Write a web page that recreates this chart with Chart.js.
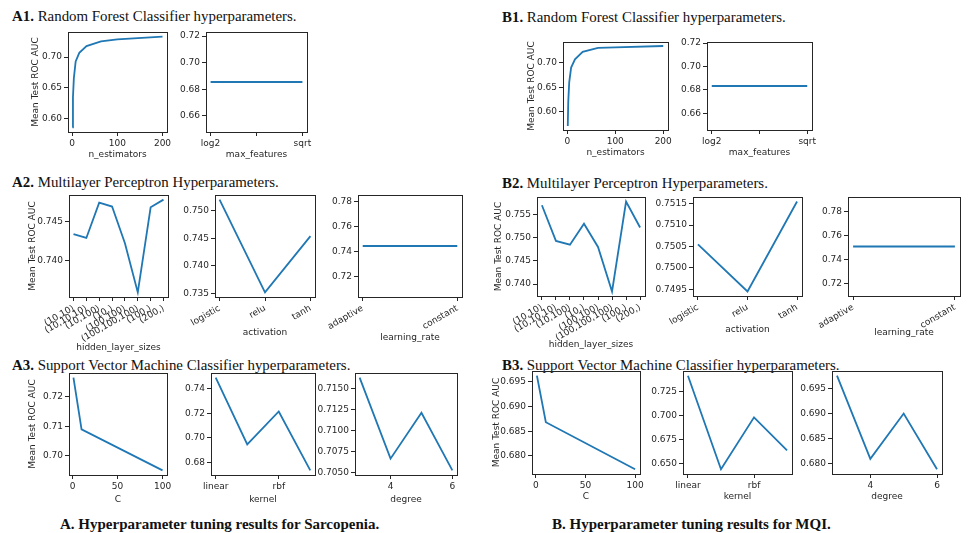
<!DOCTYPE html>
<html><head><meta charset="utf-8">
<script src="https://cdn.jsdelivr.net/npm/chart.js@4.4.0/dist/chart.umd.min.js"></script>
<style>
html,body{margin:0;padding:0;background:#fff;}
#fig{position:relative;width:978px;height:533px;overflow:hidden;background:#fff;}
#fig canvas{position:absolute;}
.ttl{position:absolute;font-family:"Liberation Serif","Times New Roman",serif;font-size:14.9px;color:#111;white-space:nowrap;line-height:16px;}
.cap{position:absolute;font-family:"Liberation Serif","Times New Roman",serif;font-weight:bold;font-size:15px;color:#111;white-space:nowrap;line-height:18px;}
</style></head><body><div id="fig">
<div class="ttl" style="left:12px;top:8px"><b>A1.</b> Random Forest Classifier hyperparameters.</div>
<div class="ttl" style="left:502px;top:9px"><b>B1.</b> Random Forest Classifier hyperparameters.</div>
<div class="ttl" style="left:12px;top:174px"><b>A2.</b> Multilayer Perceptron Hyperparameters.</div>
<div class="ttl" style="left:502px;top:175px"><b>B2.</b> Multilayer Perceptron Hyperparameters.</div>
<div class="ttl" style="left:12px;top:357px"><b>A3.</b> Support Vector Machine Classifier hyperparameters.</div>
<div class="ttl" style="left:502px;top:357px"><b>B3.</b> Support Vector Machine Classifier hyperparameters.</div>
<div class="cap" style="left:60px;top:515px">A. Hyperparameter tuning results for Sarcopenia.</div>
<div class="cap" style="left:552px;top:515px">B. Hyperparameter tuning results for MQI.</div>
</div>
<script>
// ---- data ----
const nEstimators = [1, 2, 4, 8, 16, 32, 64, 100, 200];
const sarcRfByNEstimators = [0.586, 0.635, 0.666, 0.693, 0.707, 0.718, 0.7255, 0.7288, 0.7334];
const mqiRfByNEstimators  = [0.571, 0.620, 0.660, 0.690, 0.707, 0.722, 0.730, 0.731, 0.734];
const maxFeatures = ['log2', '', 'sqrt'];
const sarcRfByMaxFeatures = [0.6854, 0.6854, 0.6854];
const mqiRfByMaxFeatures  = [0.6834, 0.6834, 0.6834];

const hiddenLayerSizes = ['(10,10)', '(10,10,10)', '(10,100)', '(10,)', '(100,100)', '(100,100,100)', '(100,)', '(200,)'];
const sarcMlpByHidden = [0.7434, 0.7429, 0.7475, 0.7470, 0.7422, 0.7358, 0.7469, 0.7479];
const mqiMlpByHidden  = [0.7570, 0.7493, 0.7485, 0.7530, 0.7480, 0.7384, 0.7578, 0.7522];
const activations = ['logistic', 'relu', 'tanh'];
const sarcMlpByActivation = [0.7520, 0.7352, 0.7454];
const mqiMlpByActivation  = [0.75055, 0.74945, 0.75155];
const learningRates = ['adaptive', 'constant'];
const sarcMlpByLearningRate = [0.7444, 0.7444];
const mqiMlpByLearningRate  = [0.7506, 0.7506];

const cValues = [1, 10, 100];
const sarcSvmByC = [0.7265, 0.7090, 0.6951];
const mqiSvmByC  = [0.6962, 0.6868, 0.6773];
const kernels = ['linear', 'poly', 'rbf', 'sigmoid'];
const kernelTickLabels = ['linear', '', 'rbf', ''];
const sarcSvmByKernel = [0.7489, 0.6946, 0.7214, 0.6735];
const mqiSvmByKernel  = [0.7415, 0.6438, 0.6980, 0.6636];
const degrees = [3, 4, 5, 6];
const sarcSvmByDegree = [0.71625, 0.70668, 0.7121, 0.7053];
const mqiSvmByDegree  = [0.6976, 0.6809, 0.6900, 0.6788];

const yLabel = 'Mean Test ROC AUC';

// ---- drawing ----
const fig = document.getElementById('fig');
const FONT = {family: '"DejaVu Sans", sans-serif', size: 9};
const INK = '#262626';
const frameBox = {
  id: 'frameBox',
  afterDraw(chart) {
    const a = chart.chartArea, ctx = chart.ctx;
    ctx.save(); ctx.strokeStyle = INK; ctx.lineWidth = 1;
    ctx.strokeRect(Math.round(a.left) + 0.5, Math.round(a.top) + 0.5, Math.round(a.right - a.left), Math.round(a.bottom - a.top));
    ctx.restore();
  }
};

function stepTicks(scale, step) {
  const out = [];
  let v = Math.ceil(scale.min / step - 1e-9) * step;
  for (; v <= scale.max + 1e-9; v += step) out.push({value: Math.round(v * 1e6) / 1e6});
  scale.ticks = out;
}

function panel(frame, xs, ys, o) {
  const [L, T, R, B] = frame;
  const yW = o.yW || 45, pt = 10, pr = 34, xH = o.xH;
  const w = R - L + yW + pr, h = B - T + pt + xH;
  const c = document.createElement('canvas');
  c.width = w; c.height = h;
  c.style.left = (L - yW) + 'px'; c.style.top = (T - pt) + 'px';
  c.style.width = w + 'px'; c.style.height = h + 'px';
  fig.appendChild(c);

  const cats = o.cats;
  let xMin, xMax;
  if (cats) { const n = xs.length - 1; xMin = -0.05 * n; xMax = n * 1.05; }
  else { const lo = Math.min(...xs), hi = Math.max(...xs); xMin = lo - 0.05 * (hi - lo); xMax = hi + 0.05 * (hi - lo); }
  let yLo = Math.min(...ys), yHi = Math.max(...ys);
  if (yHi - yLo < 1e-12) { yLo = yLo - 0.05 * Math.abs(yLo); yHi = yHi + 0.05 * Math.abs(yHi); }
  const yr = yHi - yLo;
  const yMin = yLo - 0.05 * yr, yMax = yHi + 0.05 * yr;

  const grid = {drawOnChartArea: false, drawTicks: true, tickLength: 4, color: INK, lineWidth: 1};
  new Chart(c, {
    type: 'line',
    data: {datasets: [{
      data: xs.map((x, i) => ({x: cats ? i : x, y: ys[i]})),
      borderColor: '#1f77b4', borderWidth: 1.8, pointRadius: 0, tension: 0, fill: false
    }]},
    options: {
      responsive: false, animation: false, devicePixelRatio: 1,
      layout: {padding: {left: 0, top: pt, right: pr, bottom: 0}},
      plugins: {legend: {display: false}, tooltip: {enabled: false}},
      scales: {
        x: {
          type: 'linear', min: xMin, max: xMax,
          grid: grid, border: {display: true, color: INK, width: 1},
          ticks: {
            font: FONT, color: INK, padding: 2, autoSkip: false,
            minRotation: o.rot || 0, maxRotation: o.rot || 0,
            callback: (v) => cats ? (Number.isInteger(v) ? (o.tickLabels || cats)[v] : '') : String(v)
          },
          title: {display: true, text: o.xTitle, font: FONT, color: INK, padding: 0},
          afterBuildTicks: (s) => stepTicks(s, o.xStep || 1),
          afterFit: (s) => { s.height = xH; s.paddingLeft = 0; s.paddingRight = 0; }
        },
        y: {
          type: 'linear', min: yMin, max: yMax,
          grid: grid, border: {display: true, color: INK, width: 1},
          ticks: {font: FONT, color: INK, padding: 2, callback: (v) => v.toFixed(o.dec)},
          title: {display: !!o.yTitle, text: yLabel, font: FONT, color: INK, padding: 0},
          afterBuildTicks: (s) => stepTicks(s, o.yStep),
          afterFit: (s) => { s.width = yW; s.paddingTop = 0; s.paddingBottom = 0; }
        }
      }
    },
    plugins: [frameBox]
  });
}

// Row 1
panel([68, 32, 167, 132], nEstimators, sarcRfByNEstimators, {xTitle: 'n_estimators', xStep: 100, yStep: 0.05, dec: 2, yTitle: true, yW: 38, xH: 28});
panel([206, 32, 307, 132], maxFeatures, sarcRfByMaxFeatures, {cats: maxFeatures, xTitle: 'max_features', yStep: 0.02, dec: 2, xH: 28});
panel([563, 42, 668, 130], nEstimators, mqiRfByNEstimators, {xTitle: 'n_estimators', xStep: 100, yStep: 0.05, dec: 2, yTitle: true, yW: 37, xH: 28});
panel([707, 42, 812, 130], maxFeatures, mqiRfByMaxFeatures, {cats: maxFeatures, xTitle: 'max_features', yStep: 0.02, dec: 2, xH: 28});
// Row 2
panel([69, 195, 168, 297], hiddenLayerSizes, sarcMlpByHidden, {cats: hiddenLayerSizes, rot: 30, xTitle: 'hidden_layer_sizes', yStep: 0.005, dec: 3, yTitle: true, yW: 42, xH: 56});
panel([215, 195, 315, 297], activations, sarcMlpByActivation, {cats: activations, rot: 30, xTitle: 'activation', yStep: 0.005, dec: 3, xH: 41});
panel([358, 195, 462, 297], learningRates, sarcMlpByLearningRate, {cats: learningRates, rot: 30, xTitle: 'learning_rate', yStep: 0.02, dec: 2, xH: 46});
panel([537, 197, 645, 296], hiddenLayerSizes, mqiMlpByHidden, {cats: hiddenLayerSizes, rot: 30, xTitle: 'hidden_layer_sizes', yStep: 0.005, dec: 3, yTitle: true, yW: 44, xH: 54});
panel([693, 197, 802, 296], activations, mqiMlpByActivation, {cats: activations, rot: 30, xTitle: 'activation', yStep: 0.0005, dec: 4, xH: 39});
panel([848, 197, 960, 296], learningRates, mqiMlpByLearningRate, {cats: learningRates, rot: 30, xTitle: 'learning_rate', yStep: 0.02, dec: 2, xH: 42});
// Row 3
panel([69, 373, 167, 475], cValues, sarcSvmByC, {xTitle: 'C', xStep: 50, yStep: 0.01, dec: 2, yTitle: true, yW: 42, xH: 30});
panel([211, 373, 315, 475], kernels, sarcSvmByKernel, {cats: kernels, tickLabels: kernelTickLabels, xStep: 2, xTitle: 'kernel', yStep: 0.02, dec: 2, xH: 30});
panel([355, 373, 457, 475], degrees, sarcSvmByDegree, {xTitle: 'degree', xStep: 2, yStep: 0.0025, dec: 4, xH: 30});
panel([532, 371, 640, 474], cValues, mqiSvmByC, {xTitle: 'C', xStep: 50, yStep: 0.005, dec: 3, yTitle: true, yW: 41, xH: 28});
panel([683, 371, 792, 474], kernels, mqiSvmByKernel, {cats: kernels, tickLabels: kernelTickLabels, xStep: 2, xTitle: 'kernel', yStep: 0.025, dec: 3, xH: 28});
panel([832, 371, 942, 474], degrees, mqiSvmByDegree, {xTitle: 'degree', xStep: 2, yStep: 0.005, dec: 3, xH: 28});
</script>
</body></html>
